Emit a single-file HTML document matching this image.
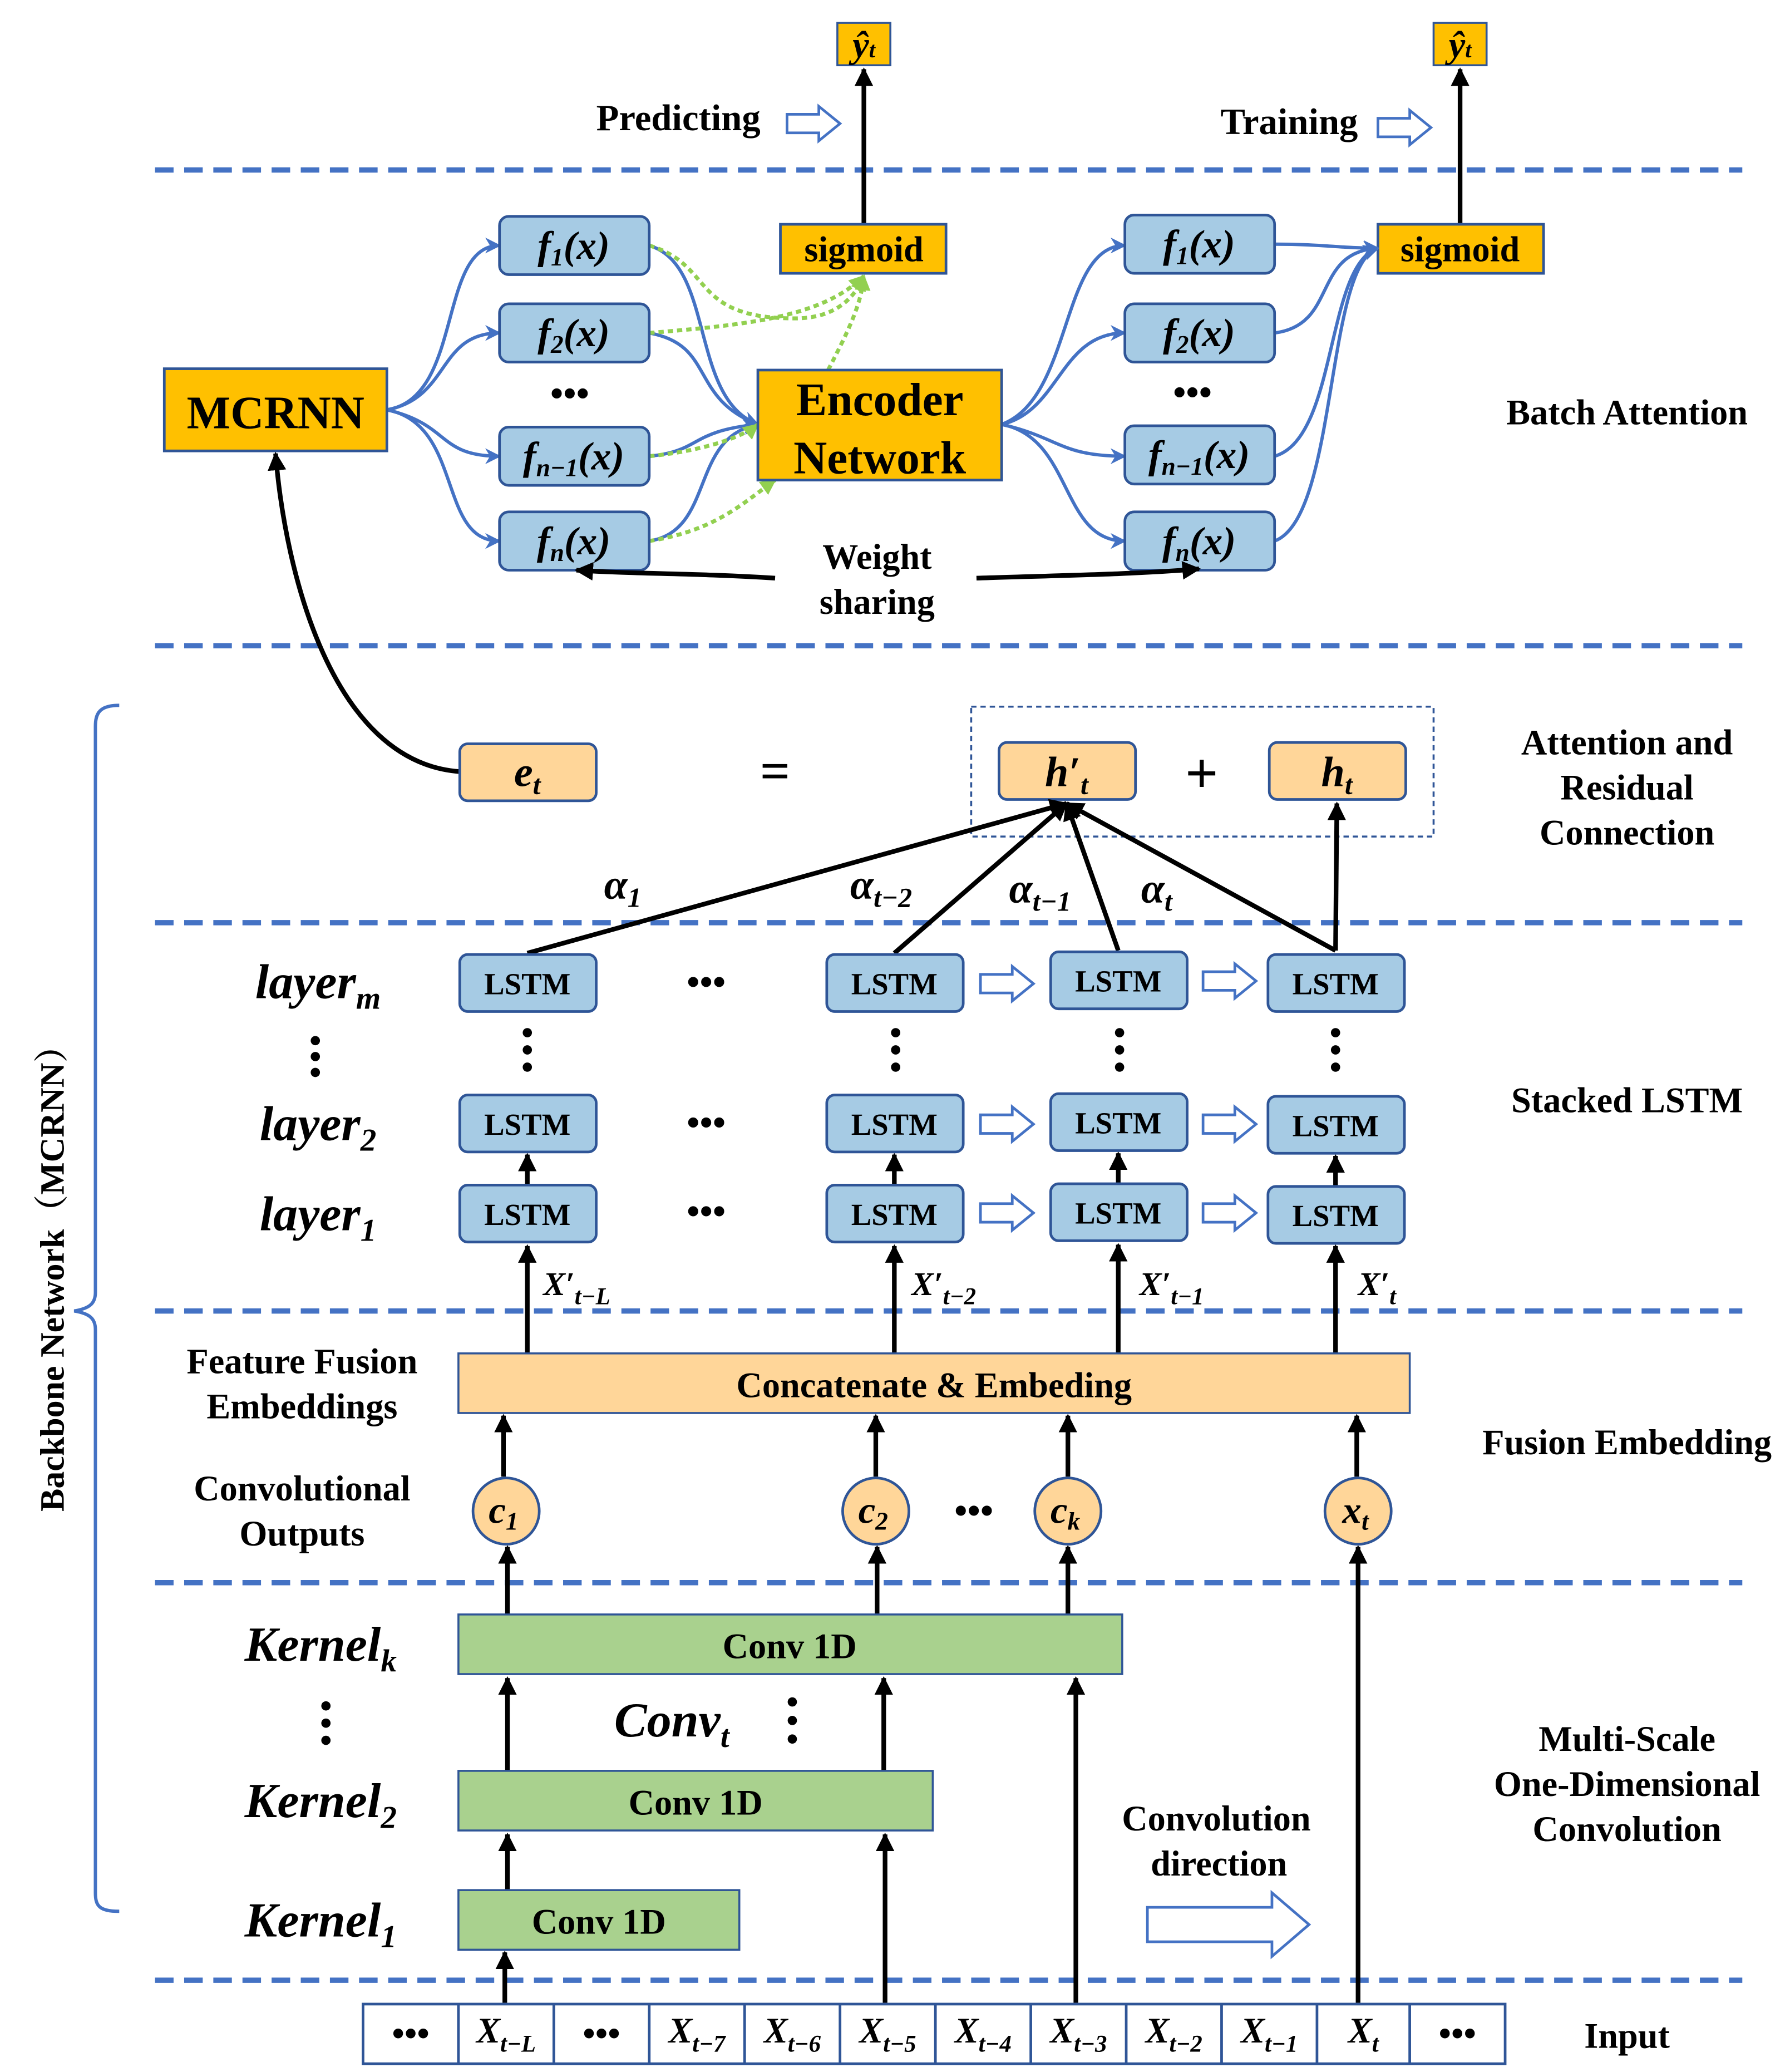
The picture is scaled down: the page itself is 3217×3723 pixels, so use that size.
<!DOCTYPE html>
<html><head><meta charset="utf-8"><style>
html,body{margin:0;padding:0;background:#fff}
svg{display:block}
text{font-family:"Liberation Serif",serif;font-weight:bold;fill:#000}
.m{font-style:italic}
</style></head><body>
<svg width="3217" height="3723" viewBox="0 0 1351 1563" xmlns="http://www.w3.org/2000/svg">
<defs>
<marker id="ab" viewBox="0 0 10 10" refX="9" refY="5" markerWidth="14" markerHeight="14" markerUnits="userSpaceOnUse" orient="auto"><path d="M0,0 L10,5 L0,10 z" fill="#000"/></marker>
<marker id="abl" viewBox="0 0 10 10" refX="9" refY="5" markerWidth="12" markerHeight="12" markerUnits="userSpaceOnUse" orient="auto"><path d="M0,0 L10,5 L0,10 L3,5 z" fill="#4472C4"/></marker>
<marker id="ag" viewBox="0 0 10 10" refX="9" refY="5" markerWidth="12" markerHeight="12" markerUnits="userSpaceOnUse" orient="auto"><path d="M0,0 L10,5 L0,10 z" fill="#92D050"/></marker>
</defs>
<g stroke="#4472C4" stroke-width="4" stroke-dasharray="14,8">
<line x1="117" y1="128" x2="1315" y2="128"/><line x1="117" y1="487" x2="1315" y2="487"/>
<line x1="117" y1="696" x2="1315" y2="696"/><line x1="117" y1="989" x2="1315" y2="989"/>
<line x1="117" y1="1194" x2="1315" y2="1194"/><line x1="117" y1="1494" x2="1315" y2="1494"/>
</g>
<g fill="#fff" stroke="#4472C4" stroke-width="2">
<path d="M594,86 L618,86 L618,80 L634,93 L618,106 L618,100 L594,100 z"/>
<path d="M1040,89 L1064,89 L1064,83 L1080,96 L1064,109 L1064,103 L1040,103 z"/>
<path d="M740,735 L764,735 L764,729 L780,742 L764,755 L764,749 L740,749 z"/>
<path d="M908,733 L932,733 L932,727 L948,740 L932,753 L932,747 L908,747 z"/>
<path d="M740,841 L764,841 L764,835 L780,848 L764,861 L764,855 L740,855 z"/>
<path d="M908,841 L932,841 L932,835 L948,848 L932,861 L932,855 L908,855 z"/>
<path d="M740,908 L764,908 L764,902 L780,915 L764,928 L764,922 L740,922 z"/>
<path d="M908,908 L932,908 L932,902 L948,915 L932,928 L932,922 L908,922 z"/>
<path d="M866,1439 L960,1439 L960,1428 L988,1452 L960,1476 L960,1465 L866,1465 z"/>
</g>
<text x="512" y="98" font-size="28" text-anchor="middle">Predicting</text>
<text x="973" y="101" font-size="28" text-anchor="middle">Training</text>
<rect x="632" y="17" width="40" height="32" fill="#FFC000" stroke="#2F5597" stroke-width="1.5"/>
<rect x="1082" y="17" width="40" height="32" fill="#FFC000" stroke="#2F5597" stroke-width="1.5"/>
<text x="652" y="43" font-size="28" text-anchor="middle" class="m">ŷ<tspan font-size="17">t</tspan></text>
<text x="1102" y="43" font-size="28" text-anchor="middle" class="m">ŷ<tspan font-size="17">t</tspan></text>
<g stroke="#000" stroke-width="3.5" fill="none" marker-end="url(#ab)">
<line x1="652" y1="169" x2="652" y2="52"/><line x1="1102" y1="169" x2="1102" y2="52"/>
</g>
<rect x="589" y="169" width="125" height="37" fill="#FFC000" stroke="#2F5597" stroke-width="2"/>
<rect x="1040" y="169" width="125" height="37" fill="#FFC000" stroke="#2F5597" stroke-width="2"/>
<text x="652" y="197" font-size="27" text-anchor="middle">sigmoid</text>
<text x="1102" y="197" font-size="27" text-anchor="middle">sigmoid</text>
<g stroke="#4472C4" stroke-width="2.5" fill="none" marker-end="url(#abl)">
<path d="M292,309 C350,300 330,185 377,185"/>
<path d="M292,309 C340,300 330,251 377,251"/>
<path d="M292,309 C340,320 330,344 377,344"/>
<path d="M292,309 C350,320 330,408 377,408"/>
<path d="M490,185 C540,200 520,300 572,320"/>
<path d="M490,251 C540,260 520,300 572,320"/>
<path d="M490,344 C530,340 520,325 572,320"/>
<path d="M490,408 C540,400 520,330 572,320"/>
<path d="M756,320 C810,300 800,185 849,185"/>
<path d="M756,320 C800,310 800,251 849,251"/>
<path d="M756,320 C800,330 800,344 849,344"/>
<path d="M756,320 C810,330 800,408 849,408"/>
<path d="M962,184 C1000,184 1010,187 1040,187"/>
<path d="M962,251 C1010,245 990,190 1040,187"/>
<path d="M962,344 C1010,330 1000,200 1040,187"/>
<path d="M962,408 C1010,390 1000,200 1040,187"/>
</g>
<g stroke="#92D050" stroke-width="3" stroke-dasharray="4,3" fill="none" marker-end="url(#ag)">
<path d="M490,185 C540,200 520,240 600,240 C630,240 645,225 652,208"/>
<path d="M490,251 C560,245 620,240 652,208"/>
<path d="M625,279 C640,250 650,230 652,208"/>
<path d="M490,344 C530,340 560,330 572,320"/>
<path d="M490,408 C540,400 560,380 585,362"/>
</g>
<g fill="#A6CBE4" stroke="#2F5597" stroke-width="2">
<rect x="377" y="163" width="113" height="44" rx="7"/><rect x="377" y="229" width="113" height="44" rx="7"/>
<rect x="377" y="322" width="113" height="44" rx="7"/><rect x="377" y="386" width="113" height="44" rx="7"/>
<rect x="849" y="162" width="113" height="44" rx="7"/><rect x="849" y="229" width="113" height="44" rx="7"/>
<rect x="849" y="321" width="113" height="44" rx="7"/><rect x="849" y="386" width="113" height="44" rx="7"/>
</g>
<g font-size="30" text-anchor="middle" class="m">
<text x="433" y="195">f<tspan font-size="19" dy="5">1</tspan><tspan dy="-5">(x)</tspan></text>
<text x="433" y="261">f<tspan font-size="19" dy="5">2</tspan><tspan dy="-5">(x)</tspan></text>
<text x="433" y="354">f<tspan font-size="19" dy="5">n−1</tspan><tspan dy="-5">(x)</tspan></text>
<text x="433" y="418">f<tspan font-size="19" dy="5">n</tspan><tspan dy="-5">(x)</tspan></text>
<text x="905" y="194">f<tspan font-size="19" dy="5">1</tspan><tspan dy="-5">(x)</tspan></text>
<text x="905" y="261">f<tspan font-size="19" dy="5">2</tspan><tspan dy="-5">(x)</tspan></text>
<text x="905" y="353">f<tspan font-size="19" dy="5">n−1</tspan><tspan dy="-5">(x)</tspan></text>
<text x="905" y="418">f<tspan font-size="19" dy="5">n</tspan><tspan dy="-5">(x)</tspan></text>
</g>
<text x="430" y="306" font-size="28" text-anchor="middle">•••</text>
<text x="900" y="305" font-size="28" text-anchor="middle">•••</text>
<rect x="124" y="278" width="168" height="62" fill="#FFC000" stroke="#2F5597" stroke-width="2"/>
<text x="208" y="323" font-size="35" text-anchor="middle">MCRNN</text>
<rect x="572" y="279" width="184" height="83" fill="#FFC000" stroke="#2F5597" stroke-width="2"/>
<text x="664" y="313" font-size="35" text-anchor="middle">Encoder</text>
<text x="664" y="357" font-size="35" text-anchor="middle">Network</text>
<text x="662" y="429" font-size="27" text-anchor="middle">Weight</text>
<text x="662" y="463" font-size="27" text-anchor="middle">sharing</text>
<g stroke="#000" stroke-width="3.5" fill="none" marker-end="url(#ab)">
<path d="M585,436 C520,432 480,433 435,430"/>
<path d="M737,436 C800,434 860,433 905,429"/>
<path d="M347,582 C250,575 215,430 208,342"/>
</g>
<text x="1228" y="320" font-size="27" text-anchor="middle">Batch Attention</text>
<rect x="733" y="533" width="349" height="98" fill="none" stroke="#2F5597" stroke-width="1.5" stroke-dasharray="4,3"/>
<g fill="#FFD699" stroke="#2F5597" stroke-width="2">
<rect x="347" y="561" width="103" height="43" rx="6"/><rect x="754" y="560" width="103" height="43" rx="6"/><rect x="958" y="560" width="103" height="43" rx="6"/>
</g>
<text x="398" y="593" font-size="32" text-anchor="middle" class="m">e<tspan font-size="21" dy="6">t</tspan></text>
<text x="805" y="593" font-size="32" text-anchor="middle" class="m">h′<tspan font-size="21" dy="6">t</tspan></text>
<text x="1009" y="593" font-size="32" text-anchor="middle" class="m">h<tspan font-size="21" dy="6">t</tspan></text>
<text x="585" y="595" font-size="40" text-anchor="middle">=</text>
<text x="907" y="598" font-size="44" text-anchor="middle">+</text>
<g stroke="#000" stroke-width="3.5" fill="none" marker-end="url(#ab)">
<line x1="398" y1="719" x2="805" y2="606"/><line x1="675" y1="719" x2="805" y2="606"/>
<line x1="844" y1="717" x2="805" y2="606"/><line x1="1008" y1="717" x2="805" y2="606"/>
<line x1="1008" y1="717" x2="1009" y2="606"/>
</g>
<g font-size="32" class="m" text-anchor="middle">
<text x="470" y="678">α<tspan font-size="21" dy="6">1</tspan></text>
<text x="665" y="678">α<tspan font-size="21" dy="6">t−2</tspan></text>
<text x="785" y="681">α<tspan font-size="21" dy="6">t−1</tspan></text>
<text x="873" y="681">α<tspan font-size="21" dy="6">t</tspan></text>
</g>
<text x="1228" y="569" font-size="27" text-anchor="middle">Attention and</text>
<text x="1228" y="603" font-size="27" text-anchor="middle">Residual</text>
<text x="1228" y="637" font-size="27" text-anchor="middle">Connection</text>
<g stroke="#000" stroke-width="3.5" fill="none" marker-end="url(#ab)">
<line x1="398" y1="894" x2="398" y2="871"/><line x1="675" y1="894" x2="675" y2="871"/><line x1="844" y1="894" x2="844" y2="870"/><line x1="1008" y1="895" x2="1008" y2="872"/>
<line x1="398" y1="1021" x2="398" y2="940"/><line x1="675" y1="1021" x2="675" y2="940"/><line x1="844" y1="1021" x2="844" y2="939"/><line x1="1008" y1="1021" x2="1008" y2="940"/>
</g>
<g fill="#A6CBE4" stroke="#2F5597" stroke-width="2">
<rect x="347" y="720" width="103" height="43" rx="6"/><rect x="624" y="720" width="103" height="43" rx="6"/><rect x="793" y="718" width="103" height="43" rx="6"/><rect x="957" y="720" width="103" height="43" rx="6"/>
<rect x="347" y="826" width="103" height="43" rx="6"/><rect x="624" y="826" width="103" height="43" rx="6"/><rect x="793" y="825" width="103" height="43" rx="6"/><rect x="957" y="827" width="103" height="43" rx="6"/>
<rect x="347" y="894" width="103" height="43" rx="6"/><rect x="624" y="894" width="103" height="43" rx="6"/><rect x="793" y="893" width="103" height="43" rx="6"/><rect x="957" y="895" width="103" height="43" rx="6"/>
</g>
<g font-size="23" text-anchor="middle">
<text x="398" y="750">LSTM</text><text x="675" y="750">LSTM</text><text x="844" y="748">LSTM</text><text x="1008" y="750">LSTM</text>
<text x="398" y="856">LSTM</text><text x="675" y="856">LSTM</text><text x="844" y="855">LSTM</text><text x="1008" y="857">LSTM</text>
<text x="398" y="924">LSTM</text><text x="675" y="924">LSTM</text><text x="844" y="923">LSTM</text><text x="1008" y="925">LSTM</text>
<text x="533" y="750" font-size="28">•••</text><text x="533" y="856" font-size="28">•••</text><text x="533" y="923" font-size="28">•••</text>
</g>
<g fill="#000">
<circle cx="238" cy="785" r="3.5"/><circle cx="238" cy="797" r="3.5"/><circle cx="238" cy="809" r="3.5"/>
<circle cx="398" cy="779" r="3.5"/><circle cx="398" cy="792" r="3.5"/><circle cx="398" cy="805" r="3.5"/>
<circle cx="676" cy="779" r="3.5"/><circle cx="676" cy="792" r="3.5"/><circle cx="676" cy="805" r="3.5"/>
<circle cx="845" cy="779" r="3.5"/><circle cx="845" cy="792" r="3.5"/><circle cx="845" cy="805" r="3.5"/>
<circle cx="1008" cy="779" r="3.5"/><circle cx="1008" cy="792" r="3.5"/><circle cx="1008" cy="805" r="3.5"/>
<circle cx="246" cy="1287" r="3.5"/><circle cx="246" cy="1300" r="3.5"/><circle cx="246" cy="1313" r="3.5"/>
<circle cx="598" cy="1284" r="3.5"/><circle cx="598" cy="1298" r="3.5"/><circle cx="598" cy="1312" r="3.5"/>
</g>
<g font-size="37" class="m" text-anchor="middle">
<text x="240" y="753">layer<tspan font-size="24" dy="8">m</tspan></text>
<text x="240" y="860">layer<tspan font-size="24" dy="8">2</tspan></text>
<text x="240" y="928">layer<tspan font-size="24" dy="8">1</tspan></text>
<text x="242" y="1253">Kernel<tspan font-size="24" dy="8">k</tspan></text>
<text x="242" y="1371">Kernel<tspan font-size="24" dy="8">2</tspan></text>
<text x="242" y="1461">Kernel<tspan font-size="24" dy="8">1</tspan></text>
<text x="507" y="1310">Conv<tspan font-size="24" dy="8">t</tspan></text>
</g>
<g font-size="25" class="m">
<text x="410" y="977">X′<tspan font-size="18" dy="7">t−L</tspan></text>
<text x="688" y="977">X′<tspan font-size="18" dy="7">t−2</tspan></text>
<text x="860" y="977">X′<tspan font-size="18" dy="7">t−1</tspan></text>
<text x="1025" y="977">X′<tspan font-size="18" dy="7">t</tspan></text>
</g>
<text x="1228" y="839" font-size="27" text-anchor="middle">Stacked LSTM</text>
<rect x="346" y="1021" width="718" height="45" fill="#FFD699" stroke="#2F5597" stroke-width="1.5"/>
<text x="705" y="1054" font-size="27" text-anchor="middle">Concatenate &amp; Embeding</text>
<text x="228" y="1036" font-size="27" text-anchor="middle">Feature Fusion</text>
<text x="228" y="1070" font-size="27" text-anchor="middle">Embeddings</text>
<text x="228" y="1132" font-size="27" text-anchor="middle">Convolutional</text>
<text x="228" y="1166" font-size="27" text-anchor="middle">Outputs</text>
<text x="1228" y="1097" font-size="27" text-anchor="middle">Fusion Embedding</text>
<g stroke="#000" stroke-width="3.5" fill="none" marker-end="url(#ab)">
<line x1="380" y1="1114" x2="380" y2="1068"/><line x1="661" y1="1114" x2="661" y2="1068"/><line x1="806" y1="1114" x2="806" y2="1068"/><line x1="1024" y1="1114" x2="1024" y2="1068"/>
<line x1="383" y1="1218" x2="383" y2="1167"/><line x1="662" y1="1218" x2="662" y2="1167"/><line x1="806" y1="1218" x2="806" y2="1167"/>
<line x1="1025" y1="1511" x2="1025" y2="1167"/>
<line x1="383" y1="1336" x2="383" y2="1266"/><line x1="667" y1="1336" x2="667" y2="1266"/>
<line x1="812" y1="1511" x2="812" y2="1266"/>
<line x1="383" y1="1426" x2="383" y2="1384"/><line x1="668" y1="1511" x2="668" y2="1384"/>
<line x1="381" y1="1511" x2="381" y2="1473"/>
</g>
<g fill="#FFD699" stroke="#2F5597" stroke-width="2">
<circle cx="382" cy="1140" r="25"/><circle cx="661" cy="1140" r="25"/><circle cx="806" cy="1140" r="25"/><circle cx="1025" cy="1140" r="25"/>
</g>
<g font-size="29" class="m" text-anchor="middle">
<text x="380" y="1149">c<tspan font-size="19" dy="5">1</tspan></text>
<text x="659" y="1149">c<tspan font-size="19" dy="5">2</tspan></text>
<text x="804" y="1149">c<tspan font-size="19" dy="5">k</tspan></text>
<text x="1023" y="1149">x<tspan font-size="19" dy="5">t</tspan></text>
</g>
<text x="735" y="1149" font-size="28" text-anchor="middle">•••</text>
<g fill="#A9D18E" stroke="#2F5597" stroke-width="1.5">
<rect x="346" y="1218" width="501" height="45"/><rect x="346" y="1336" width="358" height="45"/><rect x="346" y="1426" width="212" height="45"/>
</g>
<g font-size="27" text-anchor="middle">
<text x="596" y="1251">Conv 1D</text><text x="525" y="1369">Conv 1D</text><text x="452" y="1459">Conv 1D</text>
<text x="918" y="1381">Convolution</text><text x="920" y="1415">direction</text>
<text x="1228" y="1321">Multi-Scale</text><text x="1228" y="1355">One-Dimensional</text><text x="1228" y="1389">Convolution</text>
<text x="1228" y="1545">Input</text>
</g>
<g fill="none" stroke="#2F5597" stroke-width="2">
<rect x="274" y="1512" width="862" height="45"/>
<line x1="346" y1="1512" x2="346" y2="1557"/><line x1="418" y1="1512" x2="418" y2="1557"/><line x1="490" y1="1512" x2="490" y2="1557"/>
<line x1="562" y1="1512" x2="562" y2="1557"/><line x1="634" y1="1512" x2="634" y2="1557"/><line x1="706" y1="1512" x2="706" y2="1557"/>
<line x1="778" y1="1512" x2="778" y2="1557"/><line x1="850" y1="1512" x2="850" y2="1557"/><line x1="922" y1="1512" x2="922" y2="1557"/>
<line x1="994" y1="1512" x2="994" y2="1557"/><line x1="1064" y1="1512" x2="1064" y2="1557"/>
</g>
<g font-size="27" class="m" text-anchor="middle">
<text x="310" y="1543" font-style="normal">•••</text>
<text x="382" y="1541">X<tspan font-size="18" dy="7">t−L</tspan></text>
<text x="454" y="1543" font-style="normal">•••</text>
<text x="526" y="1541">X<tspan font-size="18" dy="7">t−7</tspan></text>
<text x="598" y="1541">X<tspan font-size="18" dy="7">t−6</tspan></text>
<text x="670" y="1541">X<tspan font-size="18" dy="7">t−5</tspan></text>
<text x="742" y="1541">X<tspan font-size="18" dy="7">t−4</tspan></text>
<text x="814" y="1541">X<tspan font-size="18" dy="7">t−3</tspan></text>
<text x="886" y="1541">X<tspan font-size="18" dy="7">t−2</tspan></text>
<text x="958" y="1541">X<tspan font-size="18" dy="7">t−1</tspan></text>
<text x="1029" y="1541">X<tspan font-size="18" dy="7">t</tspan></text>
<text x="1100" y="1543" font-style="normal">•••</text>
</g>
<path d="M90,532 C75,532 72,538 72,548 L72,975 C72,983 68,987 56,989 C68,991 72,995 72,1003 L72,1428 C72,1438 75,1442 90,1442" fill="none" stroke="#4472C4" stroke-width="2.5"/>
<text transform="translate(48,958) rotate(-90)" font-size="26" text-anchor="middle" style="font-family:'Liberation Serif','Noto Serif CJK SC',serif">Backbone Network（MCRNN）</text>
</svg>
</body></html>
